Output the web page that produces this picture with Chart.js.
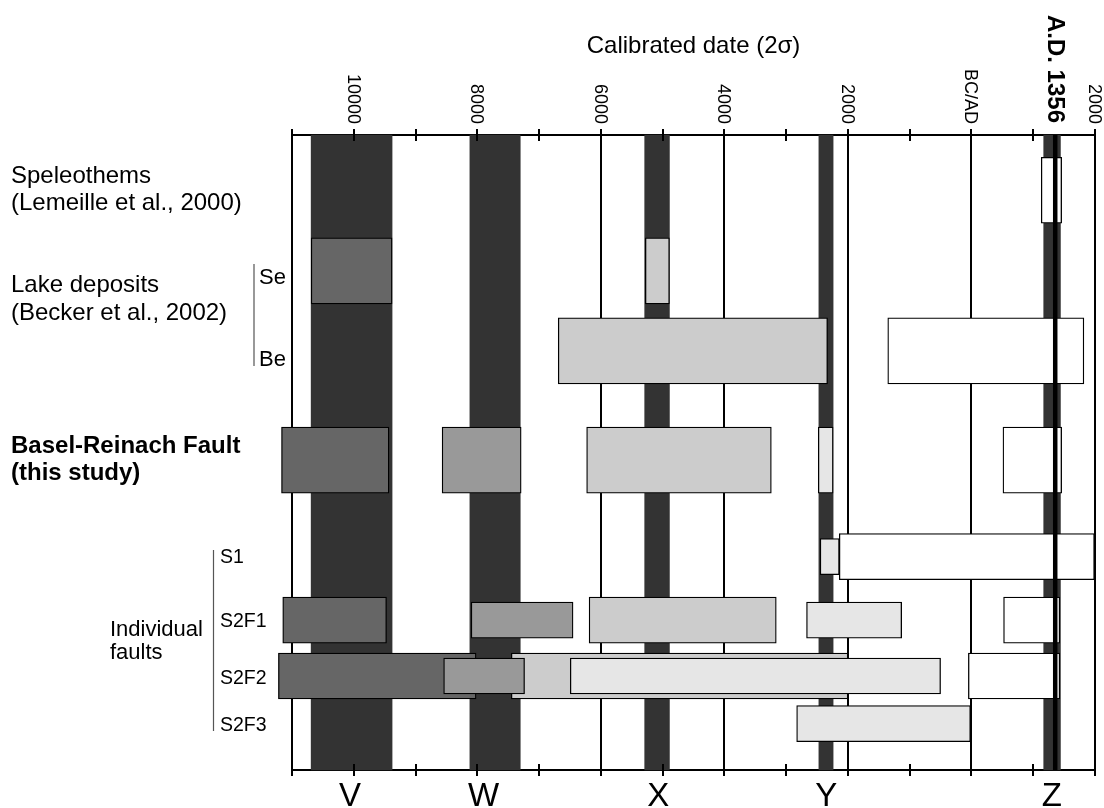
<!DOCTYPE html>
<html>
<head>
<meta charset="utf-8">
<script src="https://cdn.jsdelivr.net/npm/chart.js@4.4.1/dist/chart.umd.min.js"></script>
<style>
  html, body { margin: 0; padding: 0; background: #fff; }
  canvas { display: block; }
</style>
</head>
<body>
<canvas id="c" width="1104" height="808" style="width:1104px;height:808px"></canvas>
<script>
// ---------------- DATA ----------------
const xMin = -11000, xMax = 2000;            // calendar years (negative = BC)
const tickValues = [-10000, -8000, -6000, -4000, -2000, 0, 2000];
const tickLabels = ['10000', '8000', '6000', '4000', '2000', 'BC/AD', '2000'];
const eventYear = 1356;
const eventLabel = 'A.D. 1356';
const axisTitle = 'Calibrated date (2\u03C3)';

// rows (vertical positions on a 0..10 scale, top = 0)
const rowNames = ['Speleothems', 'Se', 'Be', 'Basel-Reinach', 'S1', 'S2F1', 'S2F2', 'S2F3'];
const rowPos   = [0.87, 2.14, 3.40, 5.12, 6.64, 7.64, 8.52, 9.27];

// event bands
const bandNames   = ['V', 'W', 'X', 'Y', 'Z'];
const bandStart   = [-10690, -8120, -5290, -2470, 1170];
const bandEnd     = [-9380, -7305, -4890, -2240, 1440];
const bandLabelAt = [-10060, -7900, -5070, -2350, 1300];

// date ranges per shade: [row, start, end]
const grey40 = [['Se', -10690, -9380], ['Basel-Reinach', -11170, -9430], ['S2F1', -11150, -9470], ['S2F2', -11220, -8020]];
const grey80 = [['Se', -5280, -4890], ['Be', -6690, -2330], ['Basel-Reinach', -6230, -3240], ['S2F1', -6190, -3160], ['S2F2', -7450, -2000]];
const grey60 = [['Basel-Reinach', -8570, -7290], ['S2F1', -8100, -6450], ['S2F2', -8545, -7235]];
const grey90 = [['Basel-Reinach', -2480, -2240], ['S1', -2450, -2140], ['S2F1', -2670, -1130], ['S2F2', -6495, -500], ['S2F3', -2830, 0]];
const white  = [['Speleothems', 1130, 1460], ['Be', -1355, 1820], ['Basel-Reinach', 510, 1460], ['S1', -2140, 1990], ['S2F1', 520, 1430], ['S2F2', -50, 1430]];

// ---------------- STYLE ----------------
const PLOT_H = 635;
const THICK = { thick: 66, mid: 46, thin: 36 };
const FONT = '"Liberation Sans", Arial, Helvetica, sans-serif';

function makeDatasets(series, color, inner) {
  const out = [];
  ['thick', inner ? 'thin' : 'mid'].forEach(cls => {
    const pts = series.filter(r => {
      const i = rowNames.indexOf(r[0]);
      return cls === 'thick' ? i < 4 : i >= 4;
    }).map(r => ({ y: rowPos[rowNames.indexOf(r[0])], x: [r[1], r[2]] }));
    if (pts.length) out.push({
      type: 'bar', data: pts, backgroundColor: color, borderColor: '#000',
      borderWidth: 1.3, borderSkipped: false, barThickness: THICK[cls],
      grouped: false, clip: false, xAxisID: 'x', yAxisID: 'y'
    });
  });
  return out;
}

const datasets = [];
datasets.push({
  type: 'bar',
  data: bandNames.map((n, i) => ({ y: 5, x: [bandStart[i], bandEnd[i]] })),
  backgroundColor: '#333333', borderWidth: 0, barThickness: PLOT_H,
  grouped: false, clip: false, xAxisID: 'x', yAxisID: 'y'
});
datasets.push(...makeDatasets(grey40, '#666666', false));
datasets.push(...makeDatasets(grey80, '#cccccc', false));
datasets.push(...makeDatasets(grey60, '#999999', true));
datasets.push(...makeDatasets(grey90, '#e6e6e6', true));
datasets.push(...makeDatasets(white, '#ffffff', false));
datasets.push({
  type: 'line', data: [{ x: eventYear, y: 0 }, { x: eventYear, y: 10 }],
  borderColor: '#000', borderWidth: 4.5, pointRadius: 0, clip: false,
  xAxisID: 'x', yAxisID: 'y'
});
datasets.forEach((d, i) => { d.order = datasets.length - i; });

// ---------------- DECORATION ----------------
const decor = {
  id: 'decor',
  afterDraw(chart) {
    const { ctx, chartArea: ca, scales: { x } } = chart;
    ctx.save();
    ctx.strokeStyle = '#000';
    ctx.lineWidth = 2;
    // tick marks on top and bottom axes
    for (let v = xMin; v <= xMax; v += 1000) {
      const px = Math.round(x.getPixelForValue(v));
      ctx.beginPath();
      ctx.moveTo(px, ca.top - 6); ctx.lineTo(px, ca.top + 6);
      ctx.moveTo(px, ca.bottom - 6); ctx.lineTo(px, ca.bottom + 6);
      ctx.stroke();
    }
    ctx.fillStyle = '#000';
    // rotated tick labels
    ctx.font = '18px ' + FONT;
    ctx.textAlign = 'right';
    ctx.textBaseline = 'middle';
    tickValues.forEach((v, i) => {
      ctx.save();
      ctx.translate(x.getPixelForValue(v), ca.top - 11);
      ctx.rotate(Math.PI / 2);
      ctx.fillText(tickLabels[i], 0, 1);
      ctx.restore();
    });
    ctx.save();
    ctx.font = 'bold 24px ' + FONT;
    ctx.translate(x.getPixelForValue(eventYear), ca.top - 12);
    ctx.rotate(Math.PI / 2);
    ctx.fillText(eventLabel, 0, 1);
    ctx.restore();

    // title
    ctx.font = '24px ' + FONT;
    ctx.textAlign = 'center';
    ctx.textBaseline = 'alphabetic';
    ctx.fillText(axisTitle, (ca.left + ca.right) / 2, 53);

    // left labels
    ctx.textAlign = 'left';
    ctx.fillText('Speleothems', 11, 183);
    ctx.fillText('(Lemeille et al., 2000)', 11, 210);
    ctx.fillText('Lake deposits', 11, 292);
    ctx.fillText('(Becker et al., 2002)', 11, 320);
    ctx.font = 'bold 24px ' + FONT;
    ctx.fillText('Basel-Reinach Fault', 11, 453);
    ctx.fillText('(this study)', 11, 480);
    ctx.font = '22px ' + FONT;
    ctx.fillText('Individual', 110, 636);
    ctx.fillText('faults', 110, 659);
    ctx.font = '22px ' + FONT;
    ctx.fillText('Se', 259, 284);
    ctx.fillText('Be', 259, 366);
    ctx.font = '19.5px ' + FONT;
    ctx.fillText('S1', 220, 563);
    ctx.fillText('S2F1', 220, 627);
    ctx.fillText('S2F2', 220, 684);
    ctx.fillText('S2F3', 220, 731);

    // brackets
    ctx.strokeStyle = '#555';
    ctx.lineWidth = 1.2;
    ctx.beginPath();
    ctx.moveTo(254, 264); ctx.lineTo(254, 366);
    ctx.moveTo(213.5, 550); ctx.lineTo(213.5, 731);
    ctx.stroke();

    // band letters
    ctx.font = '33px ' + FONT;
    ctx.textAlign = 'center';
    bandNames.forEach((n, i) => {
      ctx.fillText(n, x.getPixelForValue(bandLabelAt[i]), 806);
    });
    ctx.restore();
  }
};

new Chart(document.getElementById('c').getContext('2d'), {
  type: 'bar',
  data: { datasets },
  options: {
    indexAxis: 'y',
    responsive: false,
    animation: false,
    events: [],
    devicePixelRatio: 1,
    layout: { padding: { top: 135, left: 292, right: 9, bottom: 38 } },
    plugins: { legend: { display: false }, tooltip: { enabled: false } },
    scales: {
      x: {
        type: 'linear', position: 'top', min: xMin, max: xMax, z: 1, offset: false,
        ticks: { display: false, stepSize: 1000 },
        grid: {
          drawTicks: false, lineWidth: 2, offset: false,
          color: c => (c.tick && (c.tick.value % 2000 === 0 || c.tick.value === xMin)) ? '#000' : 'rgba(0,0,0,0)'
        },
        border: { display: true, color: '#000', width: 2 }
      },
      xb: {
        type: 'linear', position: 'bottom', min: xMin, max: xMax, z: 1, offset: false,
        ticks: { display: false, stepSize: 1000 },
        grid: { display: false, drawTicks: false },
        border: { display: true, color: '#000', width: 2 }
      },
      y: { type: 'linear', min: 0, max: 10, reverse: true, display: false, offset: false }
    }
  },
  plugins: [decor]
});
</script>
</body>
</html>
